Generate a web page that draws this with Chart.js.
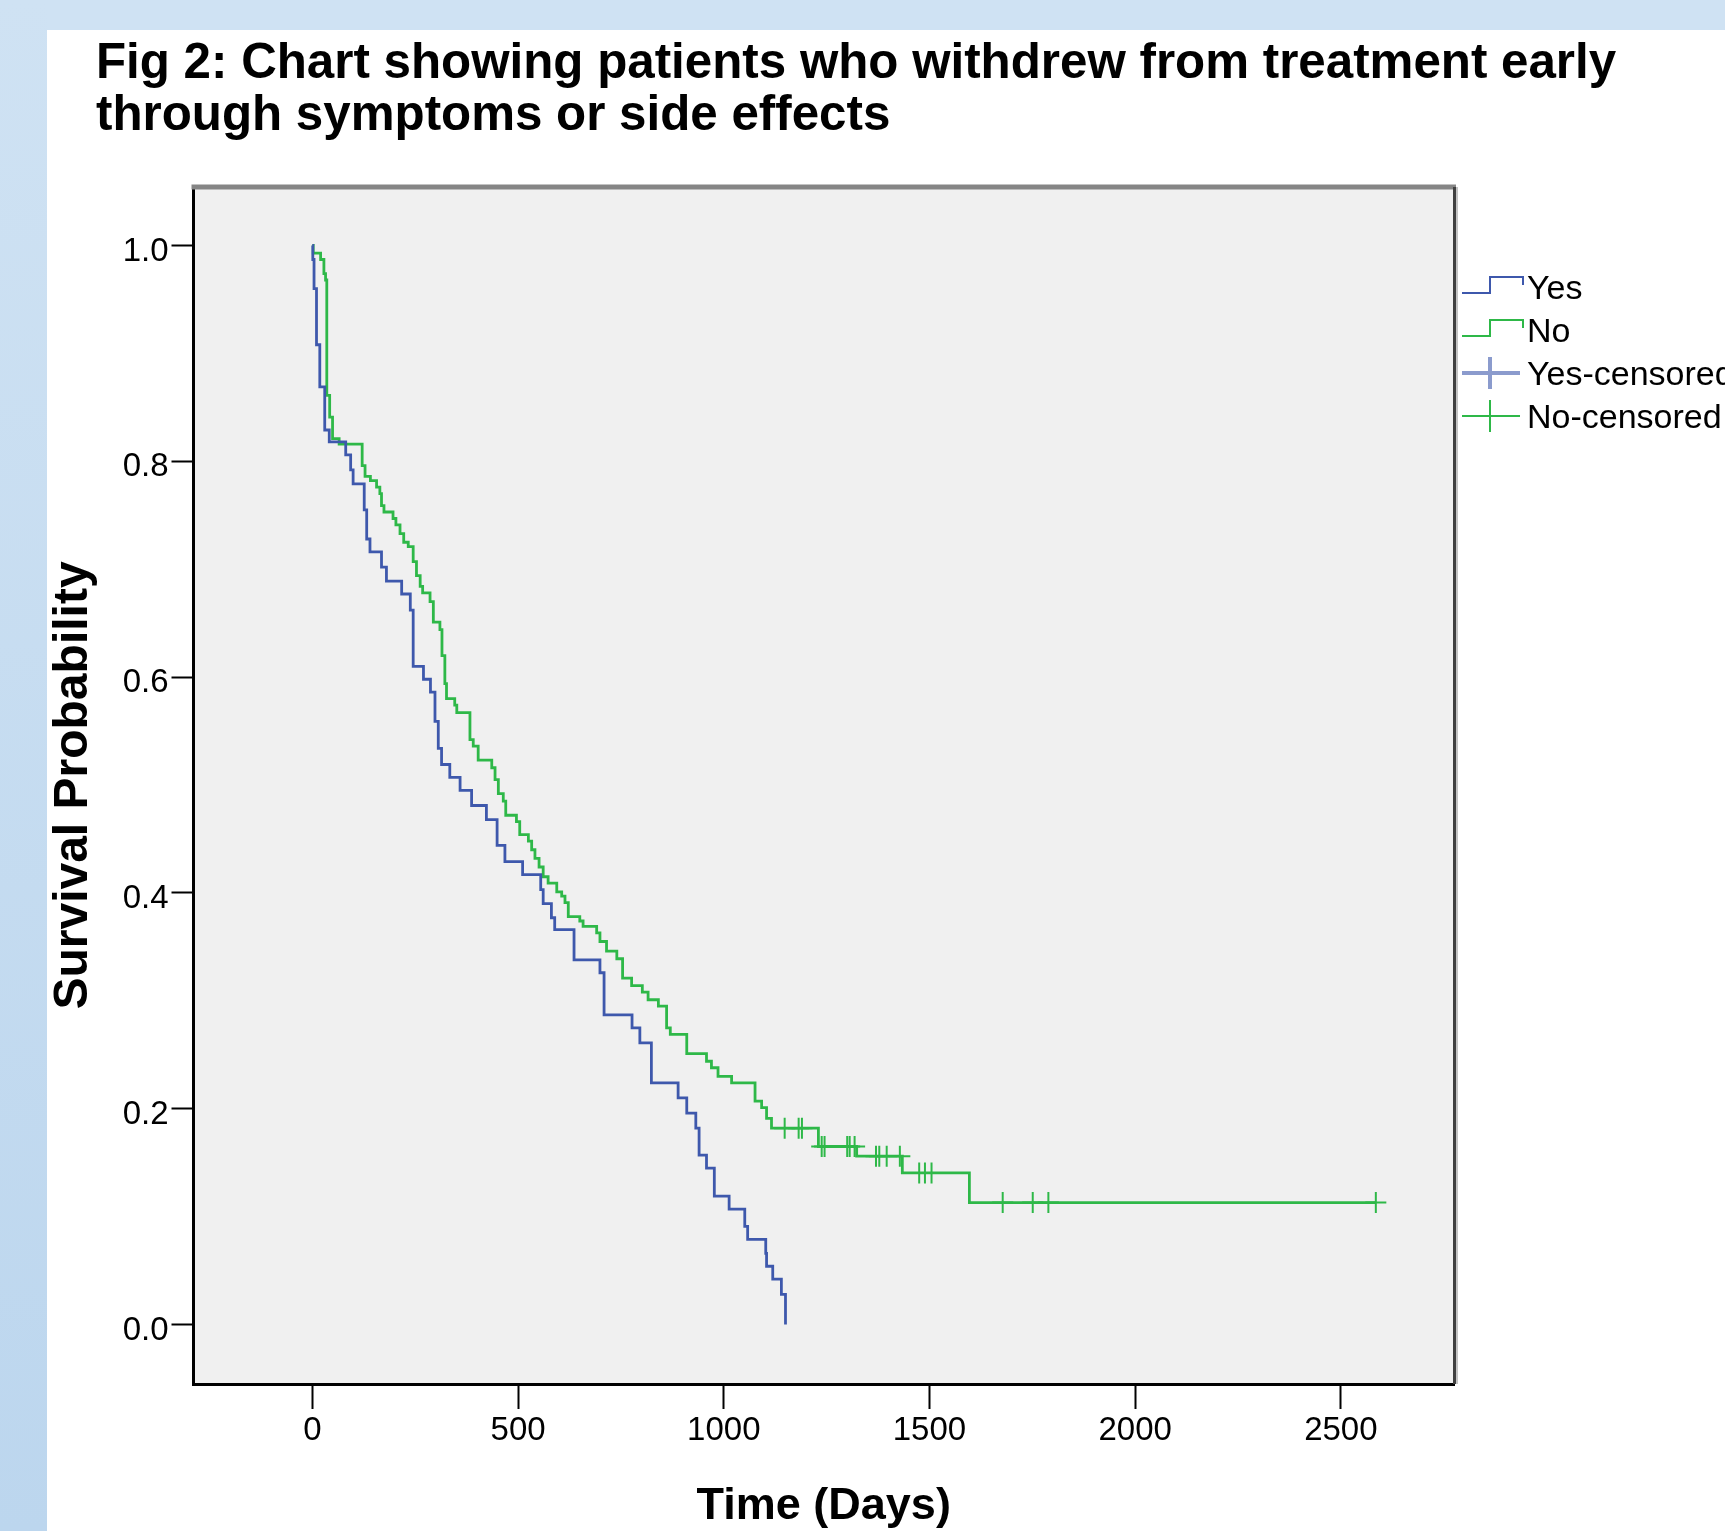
<!DOCTYPE html>
<html>
<head>
<meta charset="utf-8">
<title>Fig 2</title>
<script src="https://cdn.jsdelivr.net/npm/chart.js@4.4.1/dist/chart.umd.min.js"></script>
<style>
  html, body { margin: 0; padding: 0; }
  body {
    width: 1725px; height: 1531px; position: relative; overflow: hidden;
    background: #fff; font-family: 'Liberation Sans', Arial, sans-serif;
  }
  .band-top { position: absolute; left: 0; top: 0; width: 1725px; height: 30px; background: #cfe2f3; }
  .band-left { position: absolute; left: 0; top: 0; width: 47px; height: 1531px; background: linear-gradient(#cfe2f3, #bcd6ee); }
  .title {
    position: absolute; left: 96px; top: 35px; color: #000;
    font-weight: bold; font-size: 49.3px; line-height: 52px; white-space: nowrap;
  }
  canvas { position: absolute; left: 0; top: 0; }
</style>
</head>
<body>
<div class="band-top"></div>
<div class="band-left"></div>
<div class="title">Fig 2: Chart showing patients who withdrew from treatment early<br>through symptoms or side effects</div>
<canvas id="km" width="1725" height="1531"></canvas>
<script>
// Kaplan-Meier steps (day of drop, survival after the drop)
const yesDays = [0, 1, 4, 10, 18, 30, 41, 81, 93, 99, 126, 132, 140, 168, 180, 217, 238, 245, 270, 287,
  298, 306, 314, 334, 359, 387, 423, 449, 468, 511, 555, 561, 581, 589, 636, 699, 709, 777, 796, 824,
  889, 910, 932, 940, 958, 977, 1013, 1051, 1058, 1102, 1104, 1119, 1140, 1150];
const yesSurvival = [1.0, 0.987, 0.96, 0.908, 0.869, 0.829, 0.818, 0.806, 0.792, 0.779, 0.755, 0.728, 0.716, 0.702, 0.689, 0.677, 0.662, 0.610, 0.598, 0.586,
  0.559, 0.534, 0.519, 0.507, 0.495, 0.481, 0.468, 0.444, 0.429, 0.417, 0.403, 0.390, 0.377, 0.366, 0.338, 0.326, 0.287, 0.275, 0.261, 0.224,
  0.210, 0.196, 0.182, 0.157, 0.145, 0.119, 0.107, 0.091, 0.079, 0.066, 0.054, 0.042, 0.028, 0.0];

const noDays = [0, 2, 20, 28, 32, 35, 42, 49, 65, 121, 128, 141, 156, 164, 168, 174, 196, 203, 213, 222,
  233, 245, 253, 262, 268, 286, 294, 310, 315, 322, 326, 346, 351, 383, 391, 403, 436, 444, 452, 464,
  470, 496, 504, 525, 533, 541, 551, 561, 573, 594, 606, 614, 622, 650, 658, 691, 699, 715, 740, 754,
  776, 802, 816, 841, 861, 870, 910, 958, 970, 986, 1019, 1076, 1092, 1104, 1116, 1230, 1323, 1434, 1597, 2585];
const noSurvival = [1.0, 0.993, 0.987, 0.974, 0.968, 0.861, 0.841, 0.821, 0.816, 0.796, 0.786, 0.782, 0.776, 0.770, 0.759, 0.753, 0.747, 0.741, 0.733, 0.725,
  0.721, 0.707, 0.694, 0.684, 0.678, 0.670, 0.651, 0.644, 0.620, 0.594, 0.580, 0.574, 0.567, 0.542, 0.536, 0.523, 0.516, 0.505, 0.492, 0.485,
  0.472, 0.466, 0.454, 0.448, 0.440, 0.432, 0.424, 0.415, 0.409, 0.401, 0.397, 0.391, 0.378, 0.374, 0.369, 0.363, 0.355, 0.346, 0.339, 0.321,
  0.314, 0.308, 0.301, 0.295, 0.275, 0.269, 0.251, 0.244, 0.238, 0.230, 0.224, 0.207, 0.201, 0.191, 0.182, 0.165, 0.156, 0.1405, 0.113, 0.113];

// censored cases
const yesCensoredDays = [];
const yesCensoredSurvival = [];
const noCensoredDays = [1148, 1182, 1190, 1238, 1245, 1300, 1306, 1318, 1370, 1378, 1396, 1428, 1475, 1489, 1505, 1678, 1751, 1789, 2585];
const noCensoredSurvival = [0.182, 0.182, 0.182, 0.165, 0.165, 0.165, 0.165, 0.165, 0.156, 0.156, 0.156, 0.156, 0.1405, 0.1405, 0.1405, 0.113, 0.113, 0.113, 0.113];

const xTicks = [0, 500, 1000, 1500, 2000, 2500];
const yTicks = [0.0, 0.2, 0.4, 0.6, 0.8, 1.0];

const BLUE = '#3e58ac';
const GREEN = '#2eb848';
const FONT = "'Liberation Sans', Arial, sans-serif";

function points(xs, ys) {
  return xs.map((x, i) => ({ x: x, y: ys[i] }));
}

// plot background + grey top/right frame like SPSS
const framePlugin = {
  id: 'frame',
  beforeDraw(chart) {
    const { ctx, chartArea: a } = chart;
    ctx.save();
    ctx.fillStyle = '#f0f0f0';
    ctx.fillRect(a.left, a.top, a.right - a.left, a.bottom - a.top);
    ctx.restore();
  },
  afterDraw(chart) {
    const { ctx, chartArea: a } = chart;
    ctx.save();
    ctx.strokeStyle = '#858585';
    ctx.lineWidth = 5;
    ctx.beginPath();
    ctx.moveTo(a.left - 2, a.top);
    ctx.lineTo(a.right + 2, a.top);
    ctx.stroke();
    ctx.strokeStyle = '#404040';
    ctx.lineWidth = 3;
    ctx.beginPath();
    ctx.moveTo(a.right + 0.5, a.top);
    ctx.lineTo(a.right + 0.5, a.bottom);
    ctx.stroke();
    ctx.strokeStyle = '#c4c4c4';
    ctx.lineWidth = 2;
    ctx.beginPath();
    ctx.moveTo(a.right + 3, a.top);
    ctx.lineTo(a.right + 3, a.bottom);
    ctx.stroke();
    ctx.restore();
  }
};

// legend outside the frame on the right, step icons for curves, crosses for censored
const legendPlugin = {
  id: 'kmLegend',
  afterDraw(chart) {
    const ctx = chart.ctx;
    const x0 = 1462, x1 = 1490, x2 = 1523, textX = 1527;
    const baselines = [299, 342, 385, 428];
    ctx.save();
    ctx.font = '34px ' + FONT;
    ctx.fillStyle = '#000';
    ctx.textBaseline = 'alphabetic';
    chart.data.datasets.forEach((ds, i) => {
      const b = baselines[i];
      ctx.strokeStyle = ds.legendColor || ds.borderColor;
      ctx.lineWidth = ds.legendWidth || 2;
      ctx.beginPath();
      if (ds.showLine !== false) {
        ctx.moveTo(x0, b - 6);
        ctx.lineTo(x1, b - 6);
        ctx.lineTo(x1, b - 22);
        ctx.lineTo(x2, b - 22);
        ctx.lineTo(x2, b - 14);
      } else {
        const cy = b - 12;
        ctx.moveTo(x0, cy);
        ctx.lineTo(x2 - 3, cy);
        ctx.moveTo(x1, cy - 16);
        ctx.lineTo(x1, cy + 16);
      }
      ctx.stroke();
      ctx.fillText(ds.label, textX, b);
    });
    ctx.restore();
  }
};

Chart.defaults.color = '#000';
Chart.defaults.font.family = FONT;

new Chart(document.getElementById('km'), {
  type: 'line',
  data: {
    datasets: [
      {
        label: 'Yes',
        data: points(yesDays, yesSurvival),
        borderColor: BLUE,
        borderWidth: 2.8,
        stepped: true,
        pointRadius: 0
      },
      {
        label: 'No',
        data: points(noDays, noSurvival),
        borderColor: GREEN,
        borderWidth: 2.8,
        stepped: true,
        pointRadius: 0
      },
      {
        label: 'Yes-censored',
        data: points(yesCensoredDays, yesCensoredSurvival),
        borderColor: BLUE,
        legendColor: 'rgba(62,88,172,0.6)',
        legendWidth: 4,
        showLine: false,
        pointStyle: 'cross',
        pointRadius: 10.5,
        pointBorderWidth: 2
      },
      {
        label: 'No-censored',
        data: points(noCensoredDays, noCensoredSurvival),
        borderColor: GREEN,
        showLine: false,
        pointStyle: 'cross',
        pointRadius: 10.5,
        pointBorderWidth: 2
      }
    ]
  },
  options: {
    responsive: false,
    animation: false,
    events: [],
    layout: { padding: { left: 45, top: 187, right: 271, bottom: 0 } },
    plugins: {
      legend: { display: false },
      tooltip: { enabled: false }
    },
    scales: {
      x: {
        type: 'linear',
        min: -289,
        max: 2775,
        afterBuildTicks: axis => { axis.ticks = xTicks.map(v => ({ value: v })); },
        afterFit: axis => { axis.height = 147; },
        ticks: {
          callback: v => String(v),
          font: { size: 33 },
          padding: 2,
          maxRotation: 0,
          autoSkip: false
        },
        grid: { drawOnChartArea: false, drawTicks: true, tickLength: 25, tickColor: '#000', tickWidth: 2 },
        border: { display: true, color: '#000', width: 3 },
        title: {
          display: true,
          text: 'Time (Days)',
          font: { size: 45, weight: 'bold' },
          padding: { top: 0, bottom: -3 }
        }
      },
      y: {
        type: 'linear',
        min: -0.0551,
        max: 1.0542,
        afterBuildTicks: axis => { axis.ticks = yTicks.map(v => ({ value: v })); },
        afterFit: axis => { axis.width = 148.5; },
        ticks: {
          callback: v => v.toFixed(1),
          font: { size: 33 },
          padding: 3,
          labelOffset: 6,
          autoSkip: false
        },
        grid: { drawOnChartArea: false, drawTicks: true, tickLength: 22, tickColor: '#000', tickWidth: 2 },
        border: { display: true, color: '#000', width: 3 },
        title: {
          display: true,
          text: 'Survival Probability',
          font: { size: 48, weight: 'bold' },
          padding: { top: 0, bottom: 0 }
        }
      }
    }
  },
  plugins: [framePlugin, legendPlugin]
});
</script>
</body>
</html>
